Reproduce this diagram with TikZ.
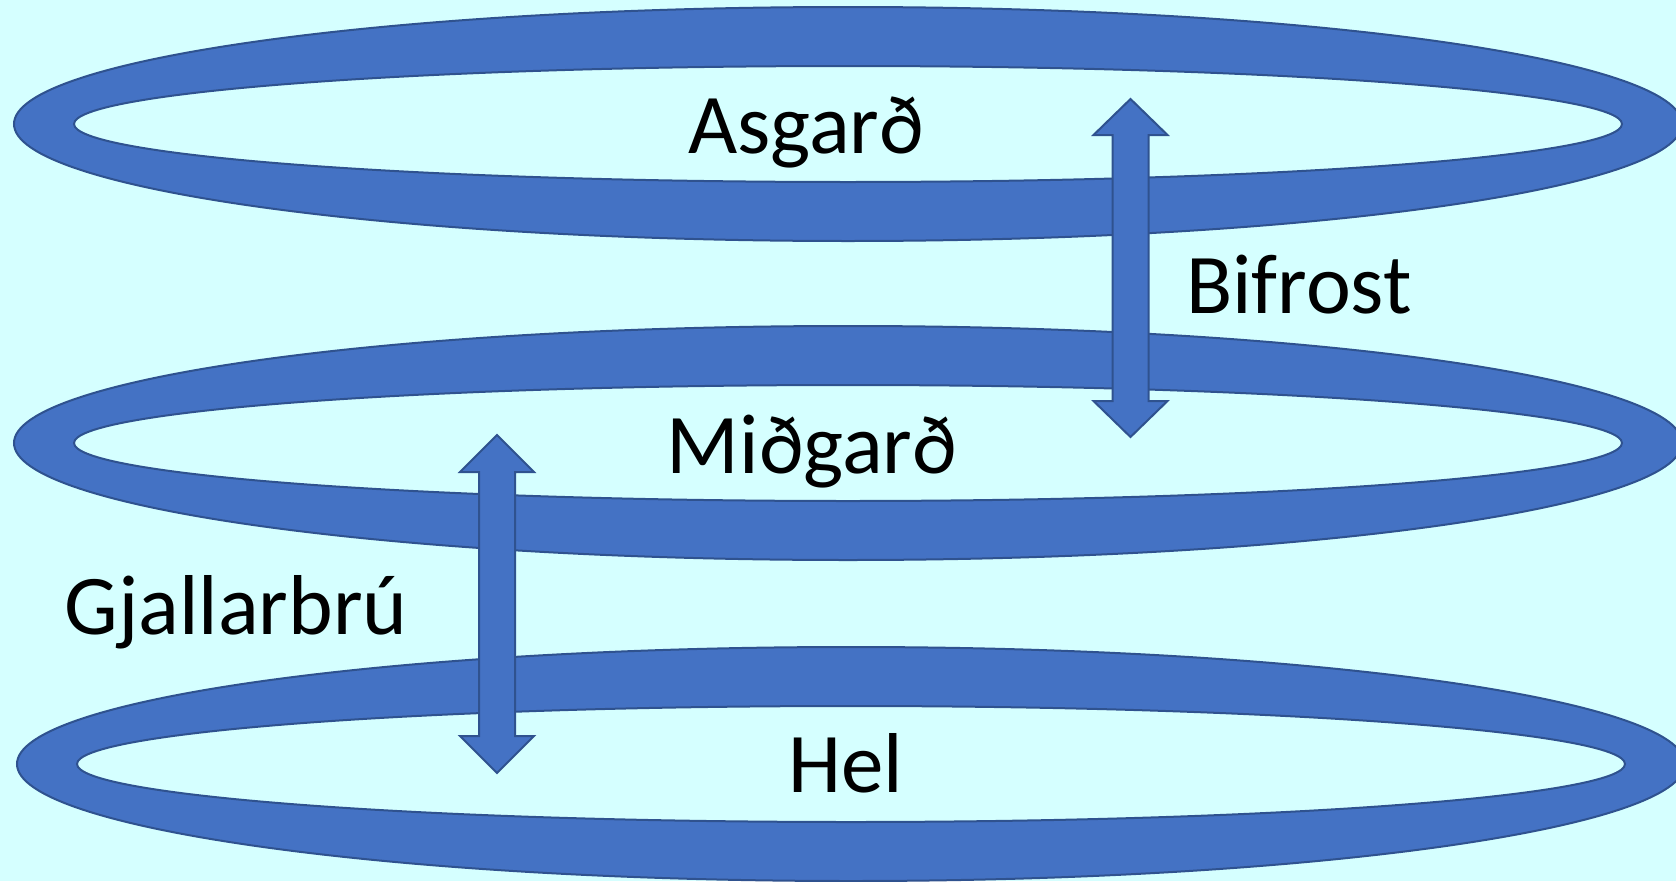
\documentclass[tikz,border=0pt]{standalone}
\usepackage{fontspec}
\setmainfont{Carlito}
\usetikzlibrary{calc}
\definecolor{sky}{HTML}{D5FFFF}
\definecolor{ringfill}{HTML}{4472C4}
\definecolor{ringline}{HTML}{2F528F}
\begin{document}
\begin{tikzpicture}[x=1pt,y=-1pt,
  ring/.style={fill=ringfill, draw=ringline, line width=2pt, even odd rule},
  bridge/.style={fill=ringfill, draw=ringline, line width=2pt, line join=miter},
  realm/.style={font=\fontsize{85}{100}\selectfont, anchor=base, inner sep=0pt, text=black}]
% background and page size
\fill[sky] (0,0) rectangle (1676,881);
\useasboundingbox (0,0) rectangle (1676,881);

% centres of the three worlds
\coordinate (asgard) at (848,124);
\coordinate (midgard) at (848,443);
\coordinate (hel) at (851,764);

% the three ring-shaped worlds
\foreach \w in {asgard,midgard,hel}{
  \path[ring] (\w) ellipse [x radius=834, y radius=117]
              (\w) ellipse [x radius=774, y radius=58];
}

% bridge ends
\coordinate (bifrostTop) at (1130.5,99);
\coordinate (bifrostBot) at (1130.5,437);
\coordinate (gjallTop) at (497,435);
\coordinate (gjallBot) at (497,773);

% double-headed bridges
\draw[bridge] (bifrostTop) -- ($(bifrostTop)+(37,36)$) -- ($(bifrostTop)+(18,36)$)
  -- ($(bifrostBot)+(18,-36)$) -- ($(bifrostBot)+(37,-36)$) -- (bifrostBot)
  -- ($(bifrostBot)+(-37,-36)$) -- ($(bifrostBot)+(-18,-36)$)
  -- ($(bifrostTop)+(-18,36)$) -- ($(bifrostTop)+(-37,36)$) -- cycle;
\draw[bridge] (gjallTop) -- ($(gjallTop)+(37,37)$) -- ($(gjallTop)+(18,37)$)
  -- ($(gjallBot)+(18,-37)$) -- ($(gjallBot)+(37,-37)$) -- (gjallBot)
  -- ($(gjallBot)+(-37,-37)$) -- ($(gjallBot)+(-18,-37)$)
  -- ($(gjallTop)+(-18,37)$) -- ($(gjallTop)+(-37,37)$) -- cycle;

% labels
\node[realm] (asgardLabel) at (806,153) {Asgarð};
\node[realm] (midgardLabel) at (812,473) {Miðgarð};
\node[realm] (helLabel) at (846,792) {Hel};
\node[realm] (bifrostLabel) at (1299,313) {Bifrost};
\node[realm] (gjallLabel) at (236,634) {Gjallarbrú};
\end{tikzpicture}
\end{document}
